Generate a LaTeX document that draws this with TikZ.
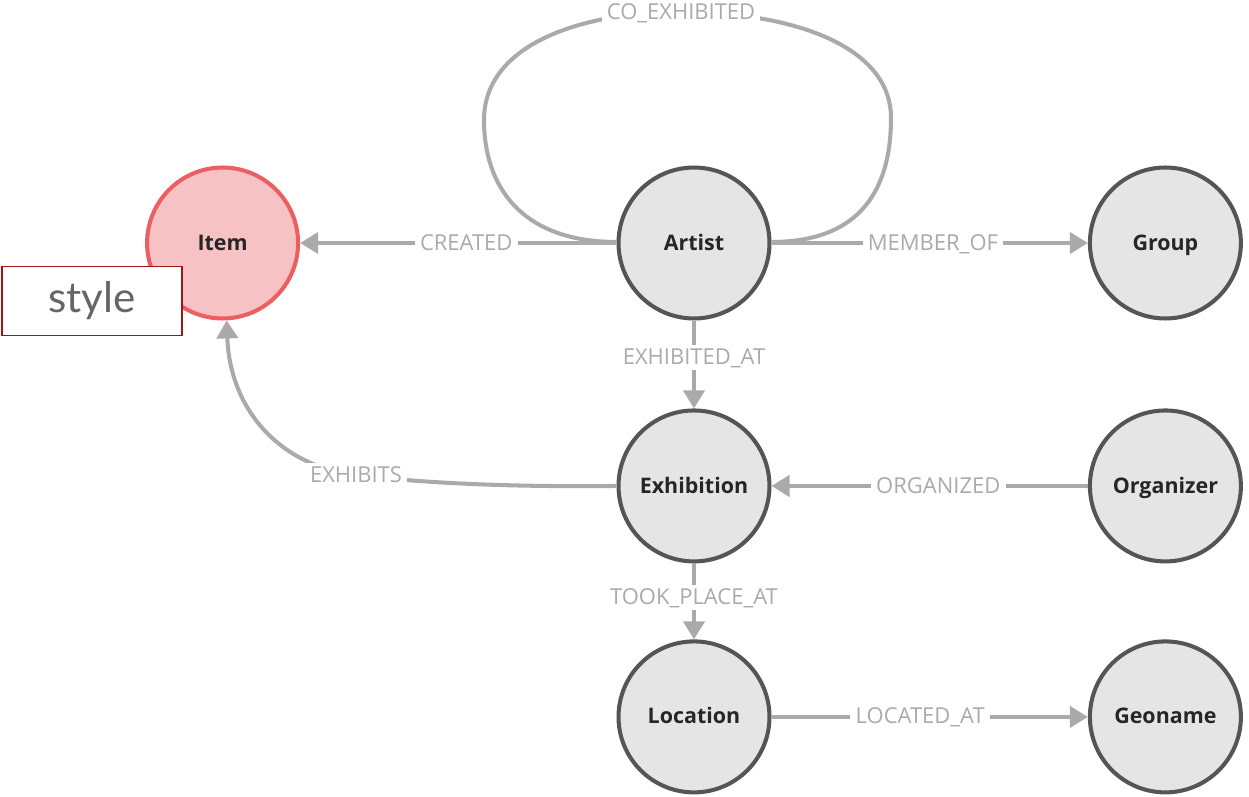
\documentclass[tikz,border=0pt]{standalone}
\usepackage{fontspec}
\setmainfont{Open Sans}
\newfontfamily\stylefont{Lato}
\usepackage{xcolor}
\usetikzlibrary{arrows.meta}

\definecolor{nodefill}{HTML}{E5E5E5}
\definecolor{nodeline}{HTML}{555555}
\definecolor{itemfill}{HTML}{F6C2C3}
\definecolor{itemline}{HTML}{EB5F63}
\definecolor{relgray}{HTML}{AAAAAA}
\definecolor{boxred}{HTML}{A31515}

\begin{document}
\begin{tikzpicture}[x=0.02cm, y=-0.02cm, node distance=9.43cm,
    entity/.style={circle, draw=nodeline, fill=nodefill, line width=2.3pt,
        minimum size=3.02cm, inner sep=0pt, text height=1.5ex, text depth=0pt,
        font=\bfseries\fontsize{12.2}{14}\selectfont, text=black!85},
    rel/.style={draw=relgray, line width=2.3pt, -{Triangle[length=0.36cm, width=0.42cm]}},
    loop rel/.style={draw=relgray, line width=2.3pt},
    lbl/.style={fill=white, text=relgray, inner sep=3pt, text height=1.5ex, text depth=0pt,
        font=\fontsize{12.5}{14}\selectfont},
]
    \useasboundingbox (0,0) rectangle (1249,797);

    \node [entity](artist) at (694,243) {Artist};
    \node [entity, draw=itemline, fill=itemfill](item) [left of = artist]{Item};
    \node [entity](group) [right of = artist]{Group};

    \node [entity](exhibition) [below of = artist, node distance=4.86cm]{Exhibition};
    \node [entity](organizer) [right of = exhibition]{Organizer};
    \node [entity](location) [below of = exhibition, node distance=4.62cm]{Location};
    \node [entity](geoname) [right of = location]{Geoname};

    \node [draw=boxred, line width=0.8pt, fill=white, minimum width=3.6cm, minimum height=1.38cm,
        text=black!60, font=\stylefont\fontsize{24}{28}\selectfont](style) at (92,301){style};

    % self loop on artist
    \path[loop rel] (617,242) .. controls (520,242) and (484,185) .. (484,120)
        .. controls (484,45) and (580,12) .. (681,12)
        node[lbl]{CO\_EXHIBITED}
        .. controls (790,12) and (891,45) .. (891,118)
        .. controls (891,190) and (860,242) .. (771,242);

    \path[rel]
        (artist) -- node[lbl, pos=0.475]{CREATED} (item);
    \path[rel]
        (artist) -- node[lbl, pos=0.51]{MEMBER\_OF} (group);
    \path[rel]
        (artist) -- node[lbl, pos=0.42]{EXHIBITED\_AT} (exhibition);
    \path[rel]
        (organizer) -- node[lbl, pos=0.473]{ORGANIZED} (exhibition);
    \path[rel]
        (exhibition) -- node[lbl, pos=0.45]{TOOK\_PLACE\_AT} (location);
    \path[rel]
        (location) -- node[lbl, pos=0.47]{LOCATED\_AT} (geoname);

    \path[rel] (exhibition.west) .. controls (520,487) and (430,484) .. (356,475)
        node[lbl]{EXHIBITS}
        .. controls (280,466) and (230,410) .. (item.273);
\end{tikzpicture}
\end{document}
